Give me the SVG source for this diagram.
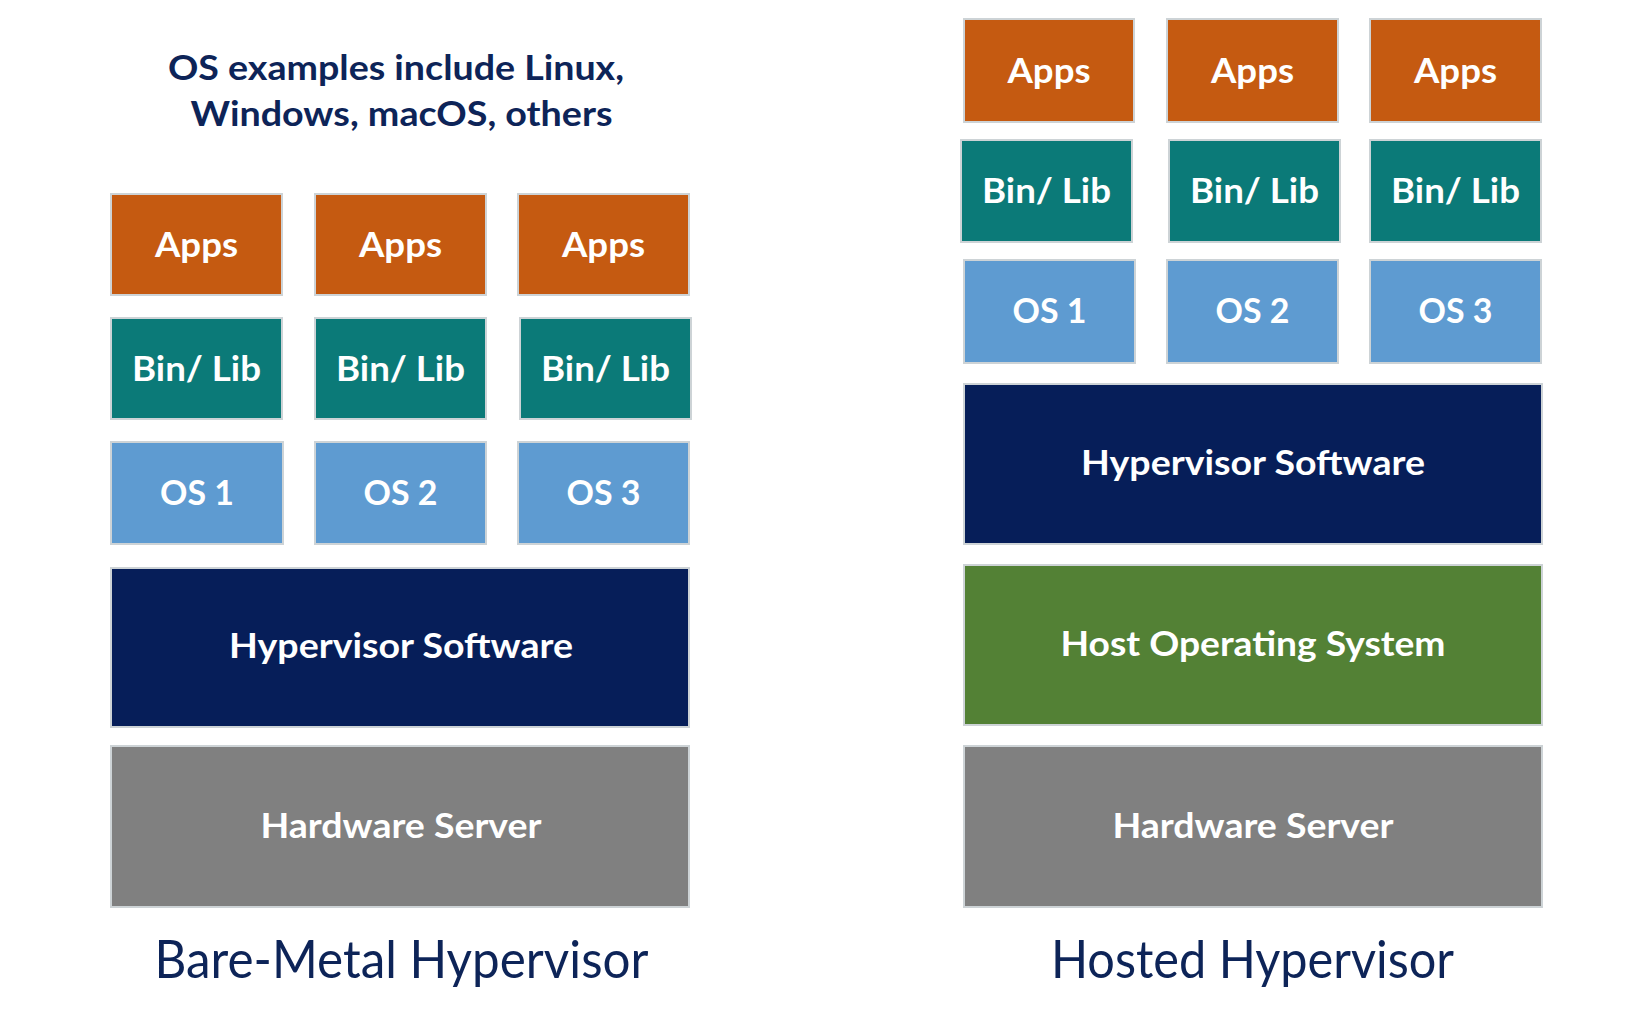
<svg xmlns="http://www.w3.org/2000/svg" width="1650" height="1013" viewBox="0 0 1650 1013">
<style>
.box{stroke:#cdd3d6;stroke-width:2}
.apps{fill:#C55A11}
.bin{fill:#0B7A78}
.os{fill:#5E9BD1}
.hyp{fill:#061E59}
.host{fill:#538135}
.hw{fill:#808080}
.lbl{font-family:Lato,"Open Sans","Liberation Sans",sans-serif;font-weight:bold;fill:#ffffff;font-size:34px;text-anchor:middle}
.cap{font-family:Lato,"Open Sans","Liberation Sans",sans-serif;fill:#0D2458;font-size:52px;text-anchor:middle}
.title{font-family:Lato,"Open Sans","Liberation Sans",sans-serif;font-weight:bold;fill:#0D2458;font-size:35px;text-anchor:middle}
</style>
<rect width="1650" height="1013" fill="#ffffff"/>
<g id="title">
<text class="title" x="396" y="80" textLength="456" lengthAdjust="spacingAndGlyphs">OS examples include Linux,</text>
<text class="title" x="401.5" y="126" textLength="422" lengthAdjust="spacingAndGlyphs">Windows, macOS, others</text>
</g>
<g id="connectors"/>
<!-- Bare-metal -->
<g id="bm-apps1"><rect class="box apps" x="111" y="194" width="171" height="101"/><text class="lbl" x="196.5" y="257" textLength="83" lengthAdjust="spacingAndGlyphs">Apps</text></g>
<g id="bm-apps2"><rect class="box apps" x="315" y="194" width="171" height="101"/><text class="lbl" x="400.5" y="257" textLength="83" lengthAdjust="spacingAndGlyphs">Apps</text></g>
<g id="bm-apps3"><rect class="box apps" x="518" y="194" width="171" height="101"/><text class="lbl" x="603.5" y="257" textLength="83" lengthAdjust="spacingAndGlyphs">Apps</text></g>
<g id="bm-bin1"><rect class="box bin" x="111" y="318" width="171" height="101"/><text class="lbl" x="196.5" y="381" textLength="129" lengthAdjust="spacingAndGlyphs">Bin/ Lib</text></g>
<g id="bm-bin2"><rect class="box bin" x="315" y="318" width="171" height="101"/><text class="lbl" x="400.5" y="381" textLength="129" lengthAdjust="spacingAndGlyphs">Bin/ Lib</text></g>
<g id="bm-bin3"><rect class="box bin" x="520" y="318" width="171" height="101"/><text class="lbl" x="605.5" y="381" textLength="129" lengthAdjust="spacingAndGlyphs">Bin/ Lib</text></g>
<g id="bm-os1"><rect class="box os" x="111" y="442" width="172" height="102"/><text class="lbl" x="197" y="505" textLength="74" lengthAdjust="spacingAndGlyphs">OS 1</text></g>
<g id="bm-os2"><rect class="box os" x="315" y="442" width="171" height="102"/><text class="lbl" x="400.5" y="505" textLength="74" lengthAdjust="spacingAndGlyphs">OS 2</text></g>
<g id="bm-os3"><rect class="box os" x="518" y="442" width="171" height="102"/><text class="lbl" x="603.5" y="505" textLength="74" lengthAdjust="spacingAndGlyphs">OS 3</text></g>
<g id="bm-hyp"><rect class="box hyp" x="111" y="568" width="578" height="159"/><text class="lbl" x="401" y="658" textLength="344" lengthAdjust="spacingAndGlyphs">Hypervisor Software</text></g>
<g id="bm-hw"><rect class="box hw" x="111" y="746" width="578" height="161"/><text class="lbl" x="401" y="838" textLength="281" lengthAdjust="spacingAndGlyphs">Hardware Server</text></g>
<g id="bm-caption"><text class="cap" x="401.5" y="978" textLength="494" lengthAdjust="spacingAndGlyphs">Bare-Metal Hypervisor</text></g>
<!-- Hosted -->
<g id="h-apps1"><rect class="box apps" x="964" y="19" width="170" height="103"/><text class="lbl" x="1049" y="83" textLength="83" lengthAdjust="spacingAndGlyphs">Apps</text></g>
<g id="h-apps2"><rect class="box apps" x="1167" y="19" width="171" height="103"/><text class="lbl" x="1252.5" y="83" textLength="83" lengthAdjust="spacingAndGlyphs">Apps</text></g>
<g id="h-apps3"><rect class="box apps" x="1370" y="19" width="171" height="103"/><text class="lbl" x="1455.5" y="83" textLength="83" lengthAdjust="spacingAndGlyphs">Apps</text></g>
<g id="h-bin1"><rect class="box bin" x="961" y="140" width="171" height="102"/><text class="lbl" x="1046.5" y="203" textLength="129" lengthAdjust="spacingAndGlyphs">Bin/ Lib</text></g>
<g id="h-bin2"><rect class="box bin" x="1169" y="140" width="171" height="102"/><text class="lbl" x="1254.5" y="203" textLength="129" lengthAdjust="spacingAndGlyphs">Bin/ Lib</text></g>
<g id="h-bin3"><rect class="box bin" x="1370" y="140" width="171" height="102"/><text class="lbl" x="1455.5" y="203" textLength="129" lengthAdjust="spacingAndGlyphs">Bin/ Lib</text></g>
<g id="h-os1"><rect class="box os" x="964" y="260" width="171" height="103"/><text class="lbl" x="1049.5" y="323" textLength="74" lengthAdjust="spacingAndGlyphs">OS 1</text></g>
<g id="h-os2"><rect class="box os" x="1167" y="260" width="171" height="103"/><text class="lbl" x="1252.5" y="323" textLength="74" lengthAdjust="spacingAndGlyphs">OS 2</text></g>
<g id="h-os3"><rect class="box os" x="1370" y="260" width="171" height="103"/><text class="lbl" x="1455.5" y="323" textLength="74" lengthAdjust="spacingAndGlyphs">OS 3</text></g>
<g id="h-hyp"><rect class="box hyp" x="964" y="384" width="578" height="160"/><text class="lbl" x="1253" y="475" textLength="344" lengthAdjust="spacingAndGlyphs">Hypervisor Software</text></g>
<g id="h-host"><rect class="box host" x="964" y="565" width="578" height="160"/><text class="lbl" x="1253" y="656" textLength="385" lengthAdjust="spacingAndGlyphs">Host Operating System</text></g>
<g id="h-hw"><rect class="box hw" x="964" y="746" width="578" height="161"/><text class="lbl" x="1253" y="838" textLength="281" lengthAdjust="spacingAndGlyphs">Hardware Server</text></g>
<g id="h-caption"><text class="cap" x="1252.5" y="978" textLength="403" lengthAdjust="spacingAndGlyphs">Hosted Hypervisor</text></g>
</svg>
